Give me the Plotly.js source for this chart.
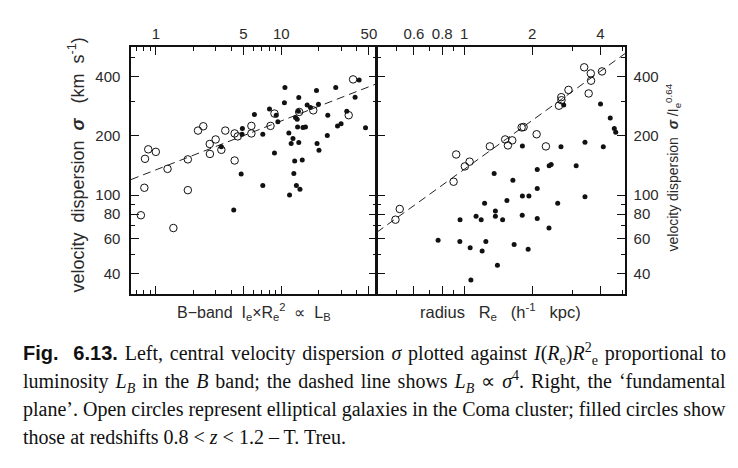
<!DOCTYPE html>
<html>
<head>
<meta charset="utf-8">
<script src="https://cdn.plot.ly/plotly-3.0.1.min.js"></script>
<style>html,body{margin:0;padding:0;background:#fff;}#chart{width:738px;height:468px;}</style>
</head>
<body>
<div id="chart"></div>
<script>
// Left panel: B-band luminosity vs velocity dispersion
const leftOpenX = [0.76,0.81,0.82,0.87,1.0,1.24,1.38,1.80,1.80,2.17,2.39,2.69,2.70,3.00,3.33,3.58,4.25,4.25,4.50,5.78,5.78,8.21,8.83,13.9,18.0,34.5,37.4];
const leftOpenY = [79,109,153,171,166,136,68,106,152,213,224,182,162,192,170,213,206,150,199,225,206,225,260,265,270,255,388];
const leftFilledX = [3.33,4.18,4.79,4.90,4.87,6.11,7.13,7.13,8.06,8.83,9.12,9.40,10.7,10.6,11.5,11.65,12.0,12.4,12.6,12.8,13.0,13.2,13.4,13.5,13.7,13.8,13.8,14.1,14.7,14.9,15.6,16.1,17.1,19.1,19.3,19.8,20.0,23.3,23.5,27.2,28.1,30.0,33.3,38.8,41.8,47.0];
const leftFilledY = [176,84,128,218,204,257,204,112,274,164,255,236,353,295,207,100,183,194,129,149,248,112,243,222,267,185,314,107,151,221,222,287,279,341,183,290,169,201,255,353,225,231,267,315,385,220];
const leftLineX = [0.634,57.8];
const leftLineY = [120,369];

// Right panel: radius vs velocity dispersion / I_e^0.64
const rightOpenX = [0.497,0.519,0.898,0.922,1.007,1.057,1.299,1.518,1.561,1.631,1.795,1.831,2.091,2.298,2.624,2.687,2.692,2.891,3.393,3.628,3.551,3.637,4.067];
const rightOpenY = [75,85,117,161,140,148,177,192,179,190,221,222,204,177,285,315,304,343,447,416,329,382,426];
const rightFilledX = [0.767,0.959,0.957,1.063,1.071,1.129,1.189,1.201,1.231,1.247,1.357,1.374,1.374,1.403,1.479,1.545,1.642,1.663,1.809,1.809,1.806,1.933,1.918,2.104,2.104,2.104,2.375,2.424,2.371,2.591,2.679,2.754,3.127,3.420,3.420,4.006,4.121,4.422,4.610,4.677];
const rightFilledY = [59,75,58,54,37,78,75,52,91,58,129,83,78,44,75,94,119,56,178,99,79,99,53,135,108,76,141,143,68,91,176,287,141,186,98,291,176,247,218,209];
const rightLineX = [0.411,5.14];
const rightLineY = [64.7,525];

// Ticks
const leftXTicks = [1,5,10,50];
const leftXTickText = ['1','5','10','50'];
const leftXMinor = [0.7,0.8,0.9,2,3,4,6,7,8,9,20,30,40];
const rightXTicks = [0.6,0.8,1,2,4];
const rightXTickText = ['0.6','0.8','1','2','4'];
const rightXMinor = [0.5,0.7,0.9,3,5];
const yTicks = [40,60,80,100,200,400];
const yTickText = ['40','60','80','100','200','400'];
const yMinor = [50,70,90,300,500];

// Caption lines
const captionLines = [
  '<b>Fig.  6.13.</b> Left, central velocity dispersion <i>σ</i> plotted against <i>I</i>(<i>R</i><sub>e</sub>)<i>R</i><sup>2</sup><sub>e</sub> proportional to',
  'luminosity <i>L<sub>B</sub></i> in the <i>B</i> band; the dashed line shows <i>L<sub>B</sub></i> ∝ <i>σ</i><sup>4</sup>. Right, the ‘fundamental',
  'plane’. Open circles represent elliptical galaxies in the Coma cluster; filled circles show',
  'those at redshifts 0.8 &lt; <i>z</i> &lt; 1.2 – T. Treu.'
];
const captionJustify = [true, true, true, false];

const ink = '#111';
const txt = '#2a2a2a';
const sans = 'Liberation Sans, Arial, sans-serif';
const serif = 'Liberation Serif, Times New Roman, serif';

function axisBase(){
  return {
    type:'log', showgrid:false, zeroline:false, showline:true, linecolor:ink, linewidth:1.6,
    mirror:'allticks', ticks:'inside', ticklen:8, tickwidth:1, tickcolor:ink,
    tickfont:{family:sans, size:15, color:txt}, tickmode:'array',
    minor:{ticks:'inside', ticklen:4, tickwidth:1, tickcolor:ink, showgrid:false}
  };
}

const openMarker = {symbol:'circle-open', size:7.5, color:ink, line:{width:1, color:ink}};
const fillMarker = {symbol:'circle', size:5, color:ink};
const dashLine = {color:'#222', width:1, dash:'8px,5px'};

const traces = [
  {x:leftLineX, y:leftLineY, xaxis:'x', yaxis:'y', mode:'lines', line:dashLine, hoverinfo:'skip'},
  {x:leftOpenX, y:leftOpenY, xaxis:'x', yaxis:'y', mode:'markers', marker:openMarker},
  {x:leftFilledX, y:leftFilledY, xaxis:'x', yaxis:'y', mode:'markers', marker:fillMarker},
  {x:rightLineX, y:rightLineY, xaxis:'x2', yaxis:'y2', mode:'lines', line:dashLine, hoverinfo:'skip'},
  {x:rightOpenX, y:rightOpenY, xaxis:'x2', yaxis:'y2', mode:'markers', marker:openMarker},
  {x:rightFilledX, y:rightFilledY, xaxis:'x2', yaxis:'y2', mode:'markers', marker:fillMarker}
];

const W = 738, H = 468;
const px = v => v / W;
const py = v => 1 - v / H;

const xa = Object.assign(axisBase(), {
  domain:[px(131), px(376.8)], anchor:'y', side:'top',
  range:[Math.log10(0.634), Math.log10(57.8)],
  tickvals:leftXTicks, ticktext:leftXTickText
});
xa.minor.tickvals = leftXMinor;
const xa2 = Object.assign(axisBase(), {
  domain:[px(376.8), px(625)], anchor:'y2', side:'top',
  range:[Math.log10(0.411), Math.log10(5.14)],
  tickvals:rightXTicks, ticktext:rightXTickText
});
xa2.minor.tickvals = rightXMinor;
const ya = Object.assign(axisBase(), {
  domain:[py(294), py(47)], anchor:'x',
  range:[Math.log10(31.4), Math.log10(567)],
  tickvals:yTicks, ticktext:yTickText, ticklabelstandoff:6
});
ya.minor.tickvals = yMinor;
const ya2 = Object.assign(axisBase(), {
  domain:[py(294), py(47)], anchor:'x2', side:'right',
  range:[Math.log10(31.4), Math.log10(567)],
  tickvals:yTicks, ticktext:yTickText, ticklabelstandoff:4
});
ya2.minor.tickvals = yMinor;

const capFont = {family:serif, size:20, color:'#111'};
const capY = [354, 381.7, 409, 436.7];
const CAP_LEFT = 21, CAP_RIGHT = 726;

const annotations = [
  {text:'velocity  dispersion  <b><i>σ</i></b>   (km  s<sup>-1</sup>)', xref:'paper', yref:'paper',
   x:px(77), y:py(165.5), textangle:-90, showarrow:false, xanchor:'center', yanchor:'middle',
   font:{family:sans, size:18, color:txt}},
  {text:'velocity dispersion  <b><i>σ</i></b> /I<sub>e</sub><sup>0.64</sup>', xref:'paper', yref:'paper',
   x:px(673), y:py(167.5), textangle:-90, showarrow:false, xanchor:'center', yanchor:'middle',
   font:{family:sans, size:14, color:txt}},
  {text:'B−band  I<sub>e</sub>×R<sub>e</sub><sup>2</sup>  ∝  L<sub>B</sub>', xref:'paper', yref:'paper',
   x:px(254), y:py(312), showarrow:false, xanchor:'center', yanchor:'middle',
   font:{family:sans, size:16, color:txt}},
  {text:'radius   R<sub>e</sub>   (h<sup>-1</sup>   kpc)', xref:'paper', yref:'paper',
   x:px(500), y:py(312), showarrow:false, xanchor:'center', yanchor:'middle',
   font:{family:sans, size:16.5, color:txt}}
];
captionLines.forEach((t, i) => {
  annotations.push({text:t, xref:'paper', yref:'paper', x:px(CAP_LEFT), y:py(capY[i]),
    xanchor:'left', yanchor:'middle', showarrow:false, font:capFont, align:'left'});
});

const layout = {
  width:W, height:H, margin:{l:0,r:0,t:0,b:0},
  paper_bgcolor:'#fff', plot_bgcolor:'#fff', showlegend:false,
  xaxis:xa, yaxis:ya, xaxis2:xa2, yaxis2:ya2,
  annotations:annotations
};

Plotly.newPlot('chart', traces, layout, {staticPlot:true, displayModeBar:false}).then(gd => {
  const nodes = gd.querySelectorAll('.annotation');
  const offset = 4; // first four annotations are axis titles
  // Bold sans for the figure number
  const first = nodes[offset] && nodes[offset].querySelector('text.annotation-text tspan');
  if (first) first.style.fontFamily = sans;
  // Justify caption lines to the right margin by adjusting word spacing
  const root = gd.getBoundingClientRect();
  captionLines.forEach((t, i) => {
    if (!captionJustify[i]) return;
    const g = nodes[offset + i];
    if (!g) return;
    const textEl = g.querySelector('text.annotation-text');
    if (!textEl) return;
    const r = textEl.getBoundingClientRect();
    const right = r.right - root.left;
    const spaces = (textEl.textContent.match(/ /g) || []).length;
    if (spaces > 0) {
      textEl.style.wordSpacing = ((CAP_RIGHT - right) / spaces).toFixed(2) + 'px';
    }
  });
});
</script>
</body>
</html>
